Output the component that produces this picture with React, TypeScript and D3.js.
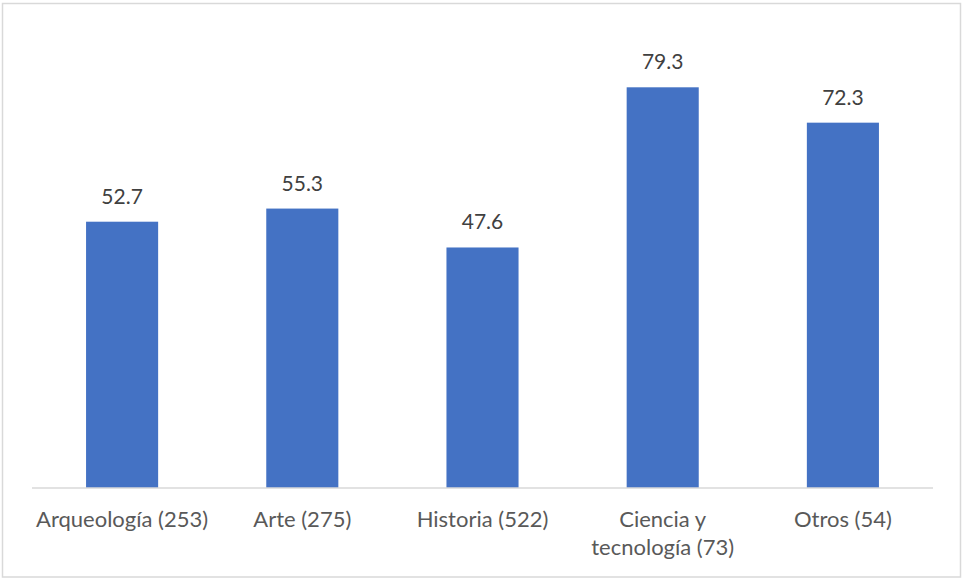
import React from "react";
import * as d3 from "d3";

const categories = ["Arqueología (253)", "Arte (275)", "Historia (522)", "Ciencia y tecnología (73)", "Otros (54)"];
const categoryLines = [["Arqueología (253)"], ["Arte (275)"], ["Historia (522)"], ["Ciencia y", "tecnología (73)"], ["Otros (54)"]];
const values = [52.7, 55.3, 47.6, 79.3, 72.3];

const W = 963;
const H = 579;
const plotLeft = 32;
const plotRight = 933;
const baseY = 488;
const FONT = "Lato, 'Open Sans', sans-serif";

export default function App() {
  const x = d3.scaleBand<string>().domain(categories).range([plotLeft, plotRight]).paddingInner(0.6).paddingOuter(0.3);
  const y = d3.scaleLinear().domain([0, 79.3]).range([baseY, 87.3]);

  return (
    <div style={{ position: "absolute", left: 0, top: 0 }}>
      <svg width={W} height={H} style={{ display: "block" }}>
        <rect x={0} y={0} width={W} height={H} fill="#ffffff" />
        <rect x={2.5} y={3.5} width={958} height={573.5} fill="#ffffff" stroke="#d9d9d9" strokeWidth={1.5} />
        {categories.map((c, i) => (
          <rect key={c} x={x(c)} y={y(values[i])} width={x.bandwidth()} height={baseY - y(values[i])} fill="#4472c4" />
        ))}
        <line x1={plotLeft} x2={plotRight} y1={baseY} y2={baseY} stroke="#d9d9d9" strokeWidth={1.5} />
        {categories.map((c, i) => (
          <text key={"v" + c} x={(x(c) as number) + x.bandwidth() / 2} y={y(values[i]) - 18} textAnchor="middle" fontFamily={FONT} fontSize={21} fill="#404040">
            {d3.format(".1f")(values[i])}
          </text>
        ))}
        {categories.map((c, i) => (
          <text key={"c" + c} x={(x(c) as number) + x.bandwidth() / 2} y={527} textAnchor="middle" fontFamily={FONT} fontSize={22} fill="#595959">
            {categoryLines[i].map((ln, j) => (
              <tspan key={j} x={(x(c) as number) + x.bandwidth() / 2} dy={j === 0 ? 0 : 28}>{ln}</tspan>
            ))}
          </text>
        ))}
      </svg>
    </div>
  );
}
